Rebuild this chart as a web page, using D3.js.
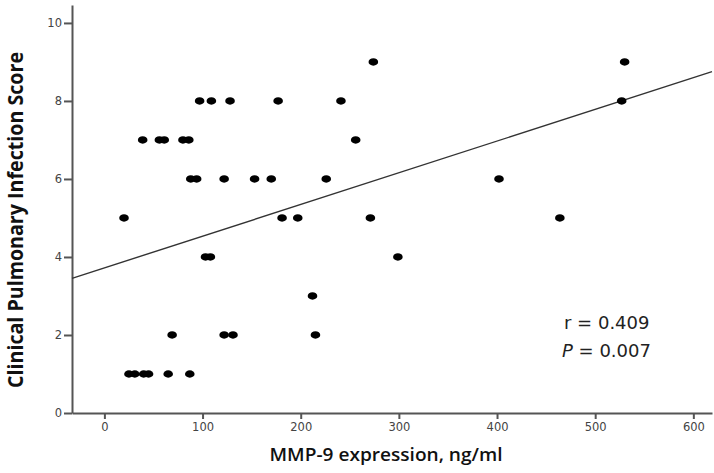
<!DOCTYPE html>
<html>
<head>
<script src="https://d3js.org/d3.v7.min.js"></script>
<style>
body { margin: 0; background: white; }
</style>
</head>
<body>
<svg id="chart" width="714" height="473"></svg>
<script>
// MMP-9 expression (ng/ml) and CPIS score
var mmp9 = [274, 530,
  97, 109, 128, 177, 241, 527,
  39, 56, 61, 80, 86, 256,
  88, 94, 122, 153, 170, 226, 402,
  20, 181, 197, 271, 464,
  103, 108, 299,
  212,
  69, 122, 131, 215,
  25, 31, 40, 45, 65, 87];
var cpis = [9, 9,
  8, 8, 8, 8, 8, 8,
  7, 7, 7, 7, 7, 7,
  6, 6, 6, 6, 6, 6, 6,
  5, 5, 5, 5, 5,
  4, 4, 4,
  3,
  2, 2, 2, 2,
  1, 1, 1, 1, 1, 1];
var xTicks = [0, 100, 200, 300, 400, 500, 600];
var yTicks = [0, 2, 4, 6, 8, 10];
var fitIntercept = 3.72, fitSlope = 0.00813;
var statLines = ["r = 0.409", "= 0.007"];

var svg = d3.select("#chart");
var plotL = 72, plotR = 712, plotT = 5, plotB = 413;

var x = d3.scaleLinear().domain([-33, 619]).range([plotL, plotR]);
var y = d3.scaleLinear().domain([0, 10.46]).range([plotB, plotT]);

// axes
svg.append("g")
  .attr("transform", "translate(0," + plotB + ")")
  .call(d3.axisBottom(x).tickValues(xTicks).tickSize(6).tickPadding(4).tickSizeOuter(0));
svg.append("g")
  .attr("transform", "translate(" + plotL + ",0)")
  .call(d3.axisLeft(y).tickValues(yTicks).tickSize(8).tickPadding(2).tickSizeOuter(0));
svg.selectAll(".domain, .tick line").attr("stroke", "#555").attr("stroke-width", 2);
svg.selectAll(".tick text")
  .style("font-family", "DejaVu Sans, sans-serif")
  .style("font-size", "11.5px")
  .style("fill", "#444");

// regression line
var x0 = x.domain()[0], x1 = x.domain()[1];
svg.append("line")
  .attr("x1", x(x0)).attr("y1", y(fitIntercept + fitSlope * x0))
  .attr("x2", x(x1)).attr("y2", y(fitIntercept + fitSlope * x1))
  .attr("stroke", "#333").attr("stroke-width", 1.4);

// points
svg.append("g").selectAll("ellipse")
  .data(mmp9).enter().append("ellipse")
  .attr("cx", function(d) { return x(d); })
  .attr("cy", function(d, i) { return y(cpis[i]); })
  .attr("rx", 4.8).attr("ry", 3.7)
  .attr("fill", "black");

// axis titles
svg.append("text")
  .attr("x", 386).attr("y", 461)
  .attr("text-anchor", "middle")
  .attr("textLength", 233).attr("lengthAdjust", "spacingAndGlyphs")
  .style("font-family", "Open Sans, sans-serif")
  .style("font-weight", "600")
  .style("font-size", "18px")
  .style("fill", "#111")
  .text("MMP-9 expression, ng/ml");

svg.append("text")
  .attr("transform", "translate(23,220) rotate(-90)")
  .attr("text-anchor", "middle")
  .attr("textLength", 336).attr("lengthAdjust", "spacingAndGlyphs")
  .style("font-family", "Open Sans, sans-serif")
  .style("font-weight", "bold")
  .style("font-size", "21px")
  .style("fill", "#111")
  .text("Clinical Pulmonary Infection Score");

// stats
svg.append("text")
  .attr("x", 564).attr("y", 329)
  .style("font-family", "DejaVu Sans, sans-serif")
  .style("font-size", "18px")
  .style("fill", "#222")
  .text(statLines[0]);
var p = svg.append("text")
  .attr("x", 562).attr("y", 357)
  .style("font-family", "DejaVu Sans, sans-serif")
  .style("font-size", "18px")
  .style("fill", "#222");
p.append("tspan").style("font-style", "italic").text("P");
p.append("tspan").text(" " + statLines[1]);
</script>
</body>
</html>
